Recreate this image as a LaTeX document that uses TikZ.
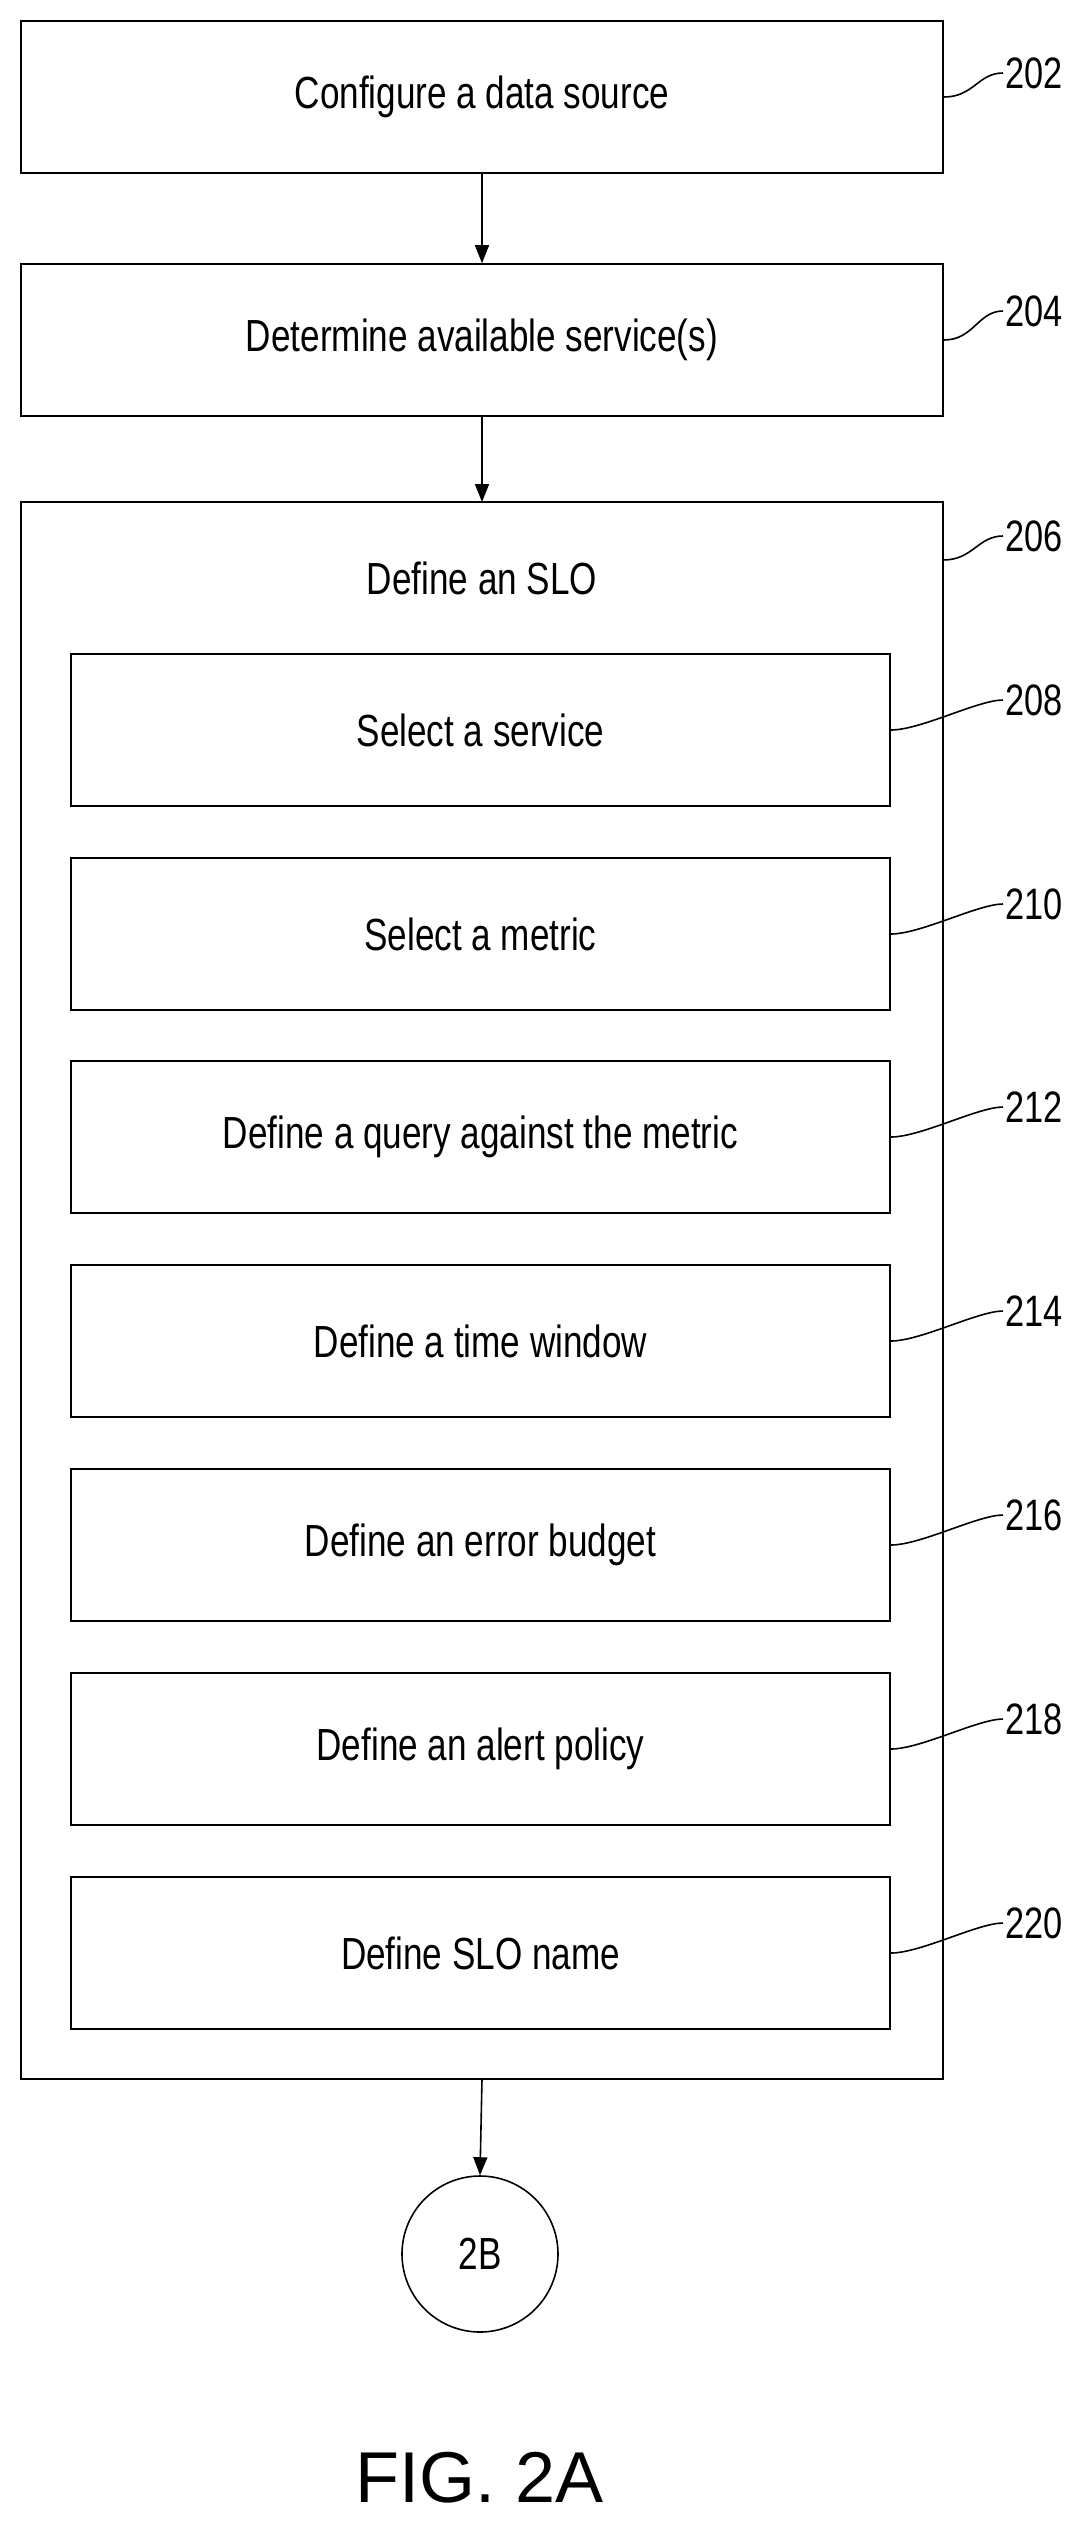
\documentclass[tikz,border=0pt]{standalone}
\usepackage{fontspec}
\setmainfont{Liberation Sans}[FakeStretch=0.78]
\usetikzlibrary{arrows.meta}
\begin{document}
\begin{tikzpicture}[x=1pt,y=-1pt,
  boxs/.style={draw,line width=1.6pt,minimum width=#1,minimum height=152pt,inner sep=0pt,font=\fontsize{45}{50}\selectfont},
  flow/.style={line width=1.6pt,-{Triangle[length=18pt,width=14pt]}},
  lead/.style={line width=1.6pt},
  lab/.style={font=\fontsize{44}{48}\selectfont,anchor=west,inner sep=2pt}]
\useasboundingbox (0,0) rectangle (1084,2528);
\node[boxs=922pt] (b202) at (482,97) {Configure a data source};
\node[boxs=922pt] (b204) at (482,340) {Determine available service(s)};
\draw[line width=1.6pt] (21,502) rectangle (943,2079);
\coordinate (o206) at (482,502);
\coordinate (d206) at (482,2079);
\coordinate (e206) at (943,560);
\node[font=\fontsize{45}{50}\selectfont] (t206) at (482,578) {Define an SLO};
\foreach \n/\y/\t in {208/730/Select a service,210/934/Select a metric,212/1137/Define a query against the metric,214/1341/Define a time window,216/1545/Define an error budget,218/1749/Define an alert policy,220/1953/Define SLO name}{
  \node[boxs=819pt] (b\n) at (480.5,\y) {\t};
  \node[lab] (l\n) at (1003,\y-30) {\n};
  \draw[lead] (b\n.east) .. controls +(30,0) and +(-25,0) .. (l\n.west);
}
\node[lab] (l202) at (1003,73) {202};
\draw[lead] (b202.east) .. controls +(30,0) and +(-25,0) .. (l202.west);
\node[lab] (l204) at (1003,311) {204};
\draw[lead] (b204.east) .. controls +(30,0) and +(-25,0) .. (l204.west);
\node[lab] (l206) at (1003,536) {206};
\draw[lead] (e206) .. controls +(30,0) and +(-25,0) .. (l206.west);
\node[draw,circle,line width=1.6pt,minimum size=156pt,inner sep=0pt,font=\fontsize{45}{50}\selectfont] (c2b) at (480,2254) {2B};
\draw[flow] (b202.south) -- (b204.north);
\draw[flow] (b204.south) -- (o206);
\draw[flow] (d206) -- (c2b.north);
\node[font=\fontsize{72}{80}\selectfont\addfontfeature{FakeStretch=1}] (fig) at (480,2478) {FIG. 2A};
\end{tikzpicture}
\end{document}
